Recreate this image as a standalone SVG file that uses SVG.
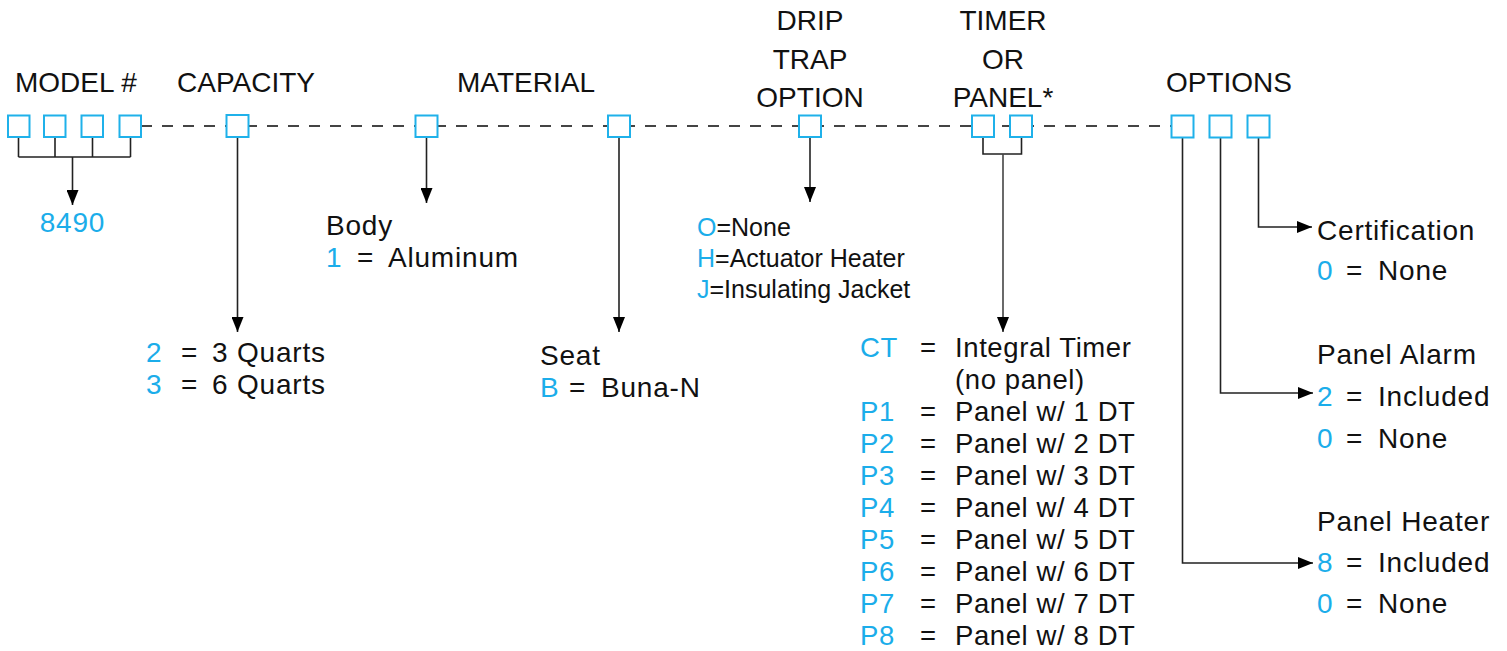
<svg xmlns="http://www.w3.org/2000/svg" width="1507" height="651" viewBox="0 0 1507 651">
<style>
text{font-family:"Liberation Sans",Arial,sans-serif;fill:#111;}
.h{font-size:28px;}
.t{font-size:28px;letter-spacing:0.8px;}
.m{font-size:27.5px;letter-spacing:0.6px;}
.d{font-size:25px;}
.b{fill:#1badea;}
.box{fill:#fff;stroke:#1fb1ea;stroke-width:2;}
.ln{fill:none;stroke:#222;stroke-width:1.6;}
.dash{fill:none;stroke:#444;stroke-width:2;stroke-dasharray:11 10;}
</style>
<defs>
<marker id="ah" viewBox="0 0 15 12" markerWidth="15" markerHeight="12" refX="15" refY="6" orient="auto" markerUnits="userSpaceOnUse">
<path d="M0,0 L15,6 L0,12 z" fill="#000"/>
</marker>
</defs>
<rect width="1507" height="651" fill="#fff"/>

<g id="connectors">
<line class="dash" x1="141" y1="126" x2="1171" y2="126"/>
<path class="ln" d="M18.5,137 V157 M55,137 V157 M92.5,137 V157 M130.5,137 V157 M18.5,157 H130.5"/>
<path class="ln" d="M72.5,157 V205" marker-end="url(#ah)"/>
<path class="ln" d="M237.5,137 V332" marker-end="url(#ah)"/>
<path class="ln" d="M426.5,137 V203" marker-end="url(#ah)"/>
<path class="ln" d="M619,137 V332" marker-end="url(#ah)"/>
<path class="ln" d="M810,137 V202" marker-end="url(#ah)"/>
<path class="ln" d="M983,137 V154 H1021.5 V137"/>
<path class="ln" d="M1003,154 V332" marker-end="url(#ah)" style="stroke:#444"/>
<path class="ln" d="M1258.5,137 V227 H1312" marker-end="url(#ah)"/>
<path class="ln" d="M1220.5,137 V393 H1313" marker-end="url(#ah)"/>
<path class="ln" d="M1182.5,137 V563 H1313" marker-end="url(#ah)"/>
</g>

<g id="model">
<text class="h" x="15" y="92">MODEL #</text>
<rect class="box" x="8" y="115.5" width="21.5" height="21.5"/>
<rect class="box" x="44" y="115.5" width="21.5" height="21.5"/>
<rect class="box" x="81.5" y="115.5" width="21.5" height="21.5"/>
<rect class="box" x="119.5" y="115.5" width="21.5" height="21.5"/>
<text class="t b" x="72.5" y="232" text-anchor="middle">8490</text>
</g>

<g id="capacity">
<text class="h" x="177" y="92">CAPACITY</text>
<rect class="box" x="226.5" y="115" width="22" height="22"/>
<text class="t b" x="146" y="362">2</text><text class="t" x="181" y="362">=</text><text class="t" x="212" y="362">3 Quarts</text>
<text class="t b" x="146" y="394">3</text><text class="t" x="181" y="394">=</text><text class="t" x="212" y="394">6 Quarts</text>
</g>

<g id="material">
<text class="h" x="526" y="92" text-anchor="middle">MATERIAL</text>
<rect class="box" x="415.5" y="115.5" width="22" height="21.5"/>
<rect class="box" x="608" y="115.5" width="22" height="21.5"/>
<text class="t" x="326" y="235">Body</text>
<text class="t b" x="326" y="267">1</text><text class="t" x="357" y="267">=</text><text class="t" x="388" y="267">Aluminum</text>
<text class="t" x="540" y="365">Seat</text>
<text class="t b" x="540" y="397">B</text><text class="t" x="569" y="397">=</text><text class="t" x="601" y="397">Buna-N</text>
</g>

<g id="drip">
<text class="h" x="810" y="30" text-anchor="middle">DRIP</text>
<text class="h" x="810" y="69" text-anchor="middle">TRAP</text>
<text class="h" x="810" y="107" text-anchor="middle">OPTION</text>
<rect class="box" x="799" y="115.5" width="22" height="21.5"/>
<text class="d" x="697" y="236"><tspan class="b">O</tspan>=None</text>
<text class="d" x="697" y="267"><tspan class="b">H</tspan>=Actuator Heater</text>
<text class="d" x="697" y="298"><tspan class="b">J</tspan>=Insulating Jacket</text>
</g>

<g id="timer">
<text class="h" x="1003" y="30" text-anchor="middle">TIMER</text>
<text class="h" x="1003" y="69" text-anchor="middle">OR</text>
<text class="h" x="1003" y="107" text-anchor="middle">PANEL*</text>
<rect class="box" x="972" y="115.5" width="22" height="21.5"/>
<rect class="box" x="1010" y="115.5" width="22" height="21.5"/>
<text class="m b" x="860" y="357">CT</text><text class="m" x="920" y="357">=</text><text class="m" x="955" y="357">Integral Timer</text>
<text class="m" x="955" y="389">(no panel)</text>
<text class="m b" x="860" y="421">P1</text><text class="m" x="920" y="421">=</text><text class="m" x="955" y="421">Panel w/ 1 DT</text>
<text class="m b" x="860" y="453">P2</text><text class="m" x="920" y="453">=</text><text class="m" x="955" y="453">Panel w/ 2 DT</text>
<text class="m b" x="860" y="485">P3</text><text class="m" x="920" y="485">=</text><text class="m" x="955" y="485">Panel w/ 3 DT</text>
<text class="m b" x="860" y="517">P4</text><text class="m" x="920" y="517">=</text><text class="m" x="955" y="517">Panel w/ 4 DT</text>
<text class="m b" x="860" y="549">P5</text><text class="m" x="920" y="549">=</text><text class="m" x="955" y="549">Panel w/ 5 DT</text>
<text class="m b" x="860" y="581">P6</text><text class="m" x="920" y="581">=</text><text class="m" x="955" y="581">Panel w/ 6 DT</text>
<text class="m b" x="860" y="613">P7</text><text class="m" x="920" y="613">=</text><text class="m" x="955" y="613">Panel w/ 7 DT</text>
<text class="m b" x="860" y="645">P8</text><text class="m" x="920" y="645">=</text><text class="m" x="955" y="645">Panel w/ 8 DT</text>
</g>

<g id="options">
<text class="h" x="1229" y="92" text-anchor="middle">OPTIONS</text>
<rect class="box" x="1171.5" y="115.5" width="22" height="22"/>
<rect class="box" x="1209.5" y="115.5" width="22" height="22"/>
<rect class="box" x="1247.5" y="115.5" width="22" height="22"/>
<text class="t" x="1317" y="240">Certification</text>
<text class="t b" x="1317" y="280">0</text><text class="t" x="1346" y="280">=</text><text class="t" x="1378" y="280">None</text>
<text class="t" x="1317" y="364">Panel Alarm</text>
<text class="t b" x="1317" y="406">2</text><text class="t" x="1346" y="406">=</text><text class="t" x="1378" y="406">Included</text>
<text class="t b" x="1317" y="448">0</text><text class="t" x="1346" y="448">=</text><text class="t" x="1378" y="448">None</text>
<text class="t" x="1317" y="531">Panel Heater</text>
<text class="t b" x="1317" y="572">8</text><text class="t" x="1346" y="572">=</text><text class="t" x="1378" y="572">Included</text>
<text class="t b" x="1317" y="613">0</text><text class="t" x="1346" y="613">=</text><text class="t" x="1378" y="613">None</text>
</g>
</svg>
